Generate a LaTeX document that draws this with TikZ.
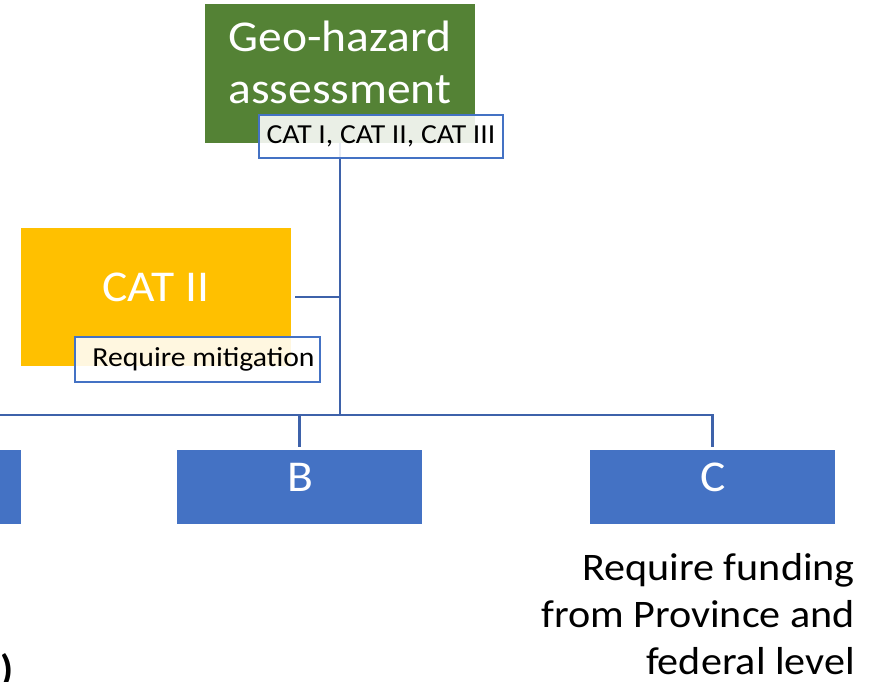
\documentclass[tikz,border=0pt]{standalone}
\usepackage{fontspec}
\setmainfont[FakeStretch=1.08]{Carlito}
\definecolor{geogreen}{HTML}{548235}
\definecolor{catyellow}{HTML}{FFC000}
\definecolor{boxblue}{HTML}{4472C4}
\definecolor{lineblue}{RGB}{62,98,170}
\begin{document}
\begin{tikzpicture}[x=1pt,y=-1pt,
  fillbox/.style={draw=none, inner sep=0pt, outer sep=0pt, anchor=north west},
  lblbox/.style={draw=boxblue, line width=1.8pt, fill=white, fill opacity=0.88, text opacity=1, inner sep=0pt, outer sep=0pt, anchor=north west, text=black, font=\fontsize{27.5}{32}\selectfont},
  whitetxt/.style={text=white, inner sep=0pt},
  conn/.style={draw=lineblue, line width=2.8pt}]
\useasboundingbox (0,0) rectangle (877,681);
% top box
\node[fillbox, fill=geogreen, minimum width=270pt, minimum height=139pt] (geo) at (205,4) {};
\node[whitetxt, align=center, font=\fontsize{44}{52}\selectfont] (geotxt) at (340,62) {Geo-hazard\\assessment};
\coordinate (jn) at (340,415);
\draw[conn] (geo.south) -- (jn);
\node[lblbox, minimum width=244pt, minimum height=43pt] (catlbl) at (259,115) {CAT I, CAT II, CAT III};
% CAT II
\node[fillbox, fill=catyellow, minimum width=270pt, minimum height=138pt] (cat2) at (21,228) {};
\node[whitetxt, font=\fontsize{44}{53}\selectfont] (cat2txt) at (156,287) {CAT II};
\draw[conn] ([xshift=4pt]cat2.east) -- (cat2.east -| jn);
\node[lblbox, minimum width=245pt, minimum height=45pt] (mitig) at (75,337) {\hspace*{12pt}Require mitigation};
% bottom row
\coordinate (hl) at (0,415);
\node[fillbox, fill=boxblue, minimum width=30pt, minimum height=74pt] (a) at (-9,450) {};
\node[fillbox, fill=boxblue, minimum width=245pt, minimum height=74pt] (b) at (177,450) {};
\node[fillbox, fill=boxblue, minimum width=245pt, minimum height=74pt] (c) at (590,450) {};
\node[whitetxt, font=\fontsize{44}{53}\selectfont] (btxt) at (300,477) {B};
\node[whitetxt, font=\fontsize{44}{53}\selectfont] (ctxt) at (713,477) {C};
\draw[conn] (hl) -- (hl -| c.north) -- ([yshift=3pt]c.north);
\draw[conn] (hl -| b.north) -- ([yshift=3pt]b.north);
% notes
\node[align=right, anchor=north east, inner sep=0pt, font=\fontsize{39}{47}\selectfont] (fund) at (855,553) {Require funding\\from Province and\\federal level};
\node[anchor=base west, inner sep=0pt, font=\fontsize{39}{47}\selectfont\bfseries] (paren) at (0,682) {)};
\end{tikzpicture}
\end{document}
